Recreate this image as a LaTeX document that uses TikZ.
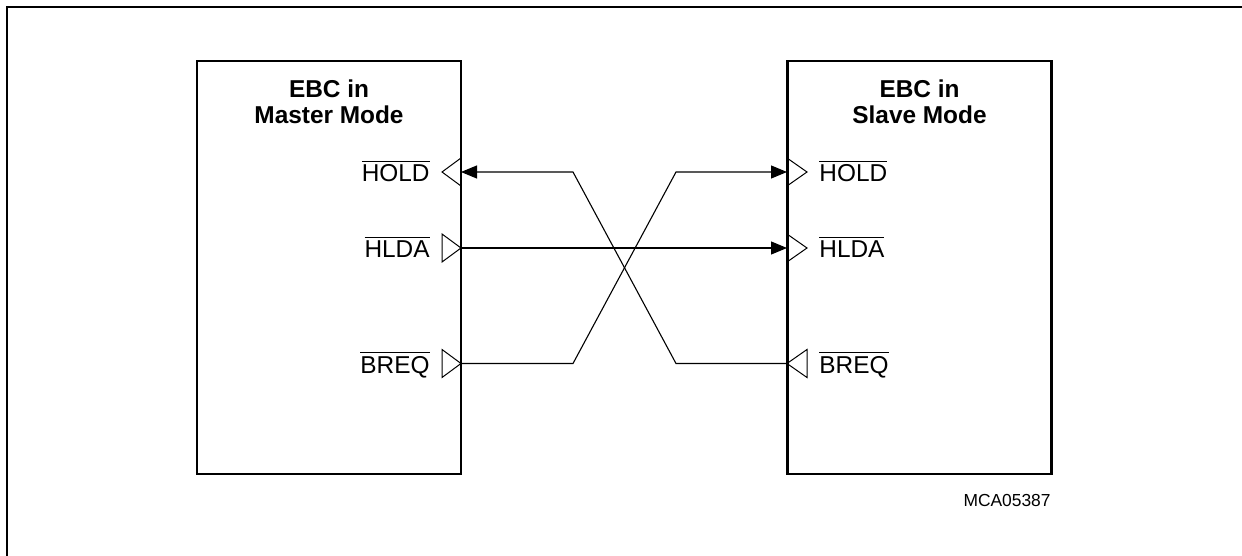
\documentclass[tikz,border=0pt]{standalone}
\usepackage{fontspec}
\setmainfont{Liberation Sans}
\usetikzlibrary{arrows.meta}
\newcommand\ovl[1]{\vbox{\hrule height 0.55pt\kern1.3pt\hbox{#1}}}
\begin{document}
\begin{tikzpicture}[x=0.5pt,y=-0.5pt,
  box/.style={draw,line width=1.4pt,minimum width=132pt,minimum height=206.5pt,inner sep=0pt,outer sep=0pt},
  ttl/.style={font=\fontsize{12.2}{14}\selectfont\bfseries,inner sep=0pt,anchor=base},
  pinl/.style={font=\fontsize{12.2}{14}\selectfont,inner sep=0pt,anchor=base east},
  pinr/.style={font=\fontsize{12.2}{14}\selectfont,inner sep=0pt,anchor=base west},
  pintri/.style={draw,line width=0.5pt,line join=miter},
  sig/.style={line width=0.55pt},
  arr/.style={sig,-{Triangle[length=8pt,width=6.5pt]}},
]
\useasboundingbox (0,0) rectangle (1242,556);
\draw[line width=1pt] (7,556) -- (7,7) -- (1242,7);

% boxes
\node[box] (master) at (329,267.5) {};
\node[box] (slave) at (919.5,267.5) {};

% titles
\node[ttl] (mt1) at (329,97.7) {EBC in};
\node[ttl] (mt2) at (329,124) {Master Mode};
\node[ttl] (st1) at (919.5,97.7) {EBC in};
\node[ttl] (st2) at (919.5,124) {Slave Mode};

% pin coordinates
\coordinate (mHOLD) at (461,172);
\coordinate (mHLDA) at (461,248);
\coordinate (mBREQ) at (461,363.5);
\coordinate (sHOLD) at (787,172);
\coordinate (sHLDA) at (787,248);
\coordinate (sBREQ) at (787,363.5);

% pin triangles, master
\draw[pintri] (461,158) -- (442,172) -- (461,186);
\draw[pintri] (442,234) -- (461,248) -- (442,262) -- cycle;
\draw[pintri] (442,349.5) -- (461,363.5) -- (442,377.5) -- cycle;
% pin triangles, slave
\draw[pintri] (787,158) -- (807,172) -- (787,186);
\draw[pintri] (787,234) -- (807,248) -- (787,262);
\draw[pintri] (807,349.5) -- (787,363.5) -- (807,377.5) -- cycle;

% pin labels
\node[pinl] (lmHOLD) at (430,181.5) {\ovl{HOLD}};
\node[pinl] (lmHLDA) at (430,257.5) {\ovl{HLDA}};
\node[pinl] (lmBREQ) at (430,373) {\ovl{BREQ}};
\node[pinr] (lsHOLD) at (819,181.5) {\ovl{HOLD}};
\node[pinr] (lsHLDA) at (819,257.5) {\ovl{HLDA}};
\node[pinr] (lsBREQ) at (819,373) {\ovl{BREQ}};

% connectors
\draw[arr] (mHLDA) -- (sHLDA);
\draw[arr] (sBREQ) -- (676,363.5) -- (573,172) -- (mHOLD);
\draw[arr] (mBREQ) -- (573,363.5) -- (676,172) -- (sHOLD);

\node[font=\fontsize{8.7}{10}\selectfont,inner sep=0pt,anchor=base east] (id) at (1051,506) {MCA05387};
\end{tikzpicture}
\end{document}
